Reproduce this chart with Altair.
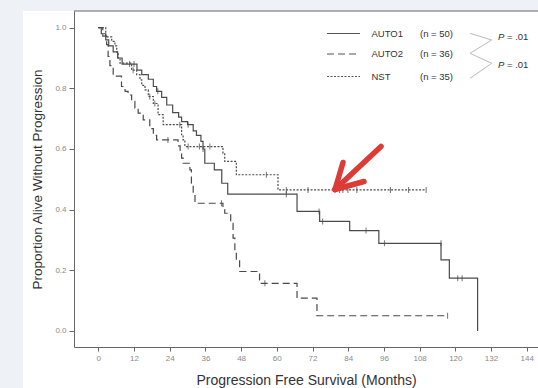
import altair as alt
import pandas as pd

# ---------------- data ----------------
# AUTO1 (n = 50): event times (months) and survival after each step
auto1_t = [0, 1, 2.5, 3.5, 5, 6.5, 8, 13, 14.6, 16.8, 18.5, 19.6, 21.3, 23, 25, 27, 28, 30,
           31.9, 33, 34.5, 35.2, 35.8, 39, 41.5, 43.5, 66.8, 74.4, 84.5, 94.3, 115.2, 118, 127.5]
auto1_s = [1.0, 0.98, 0.96, 0.94, 0.92, 0.90, 0.88, 0.86, 0.845, 0.83, 0.806, 0.79, 0.77, 0.745,
           0.72, 0.705, 0.69, 0.68, 0.66, 0.645, 0.625, 0.60, 0.553, 0.531, 0.487, 0.451, 0.394,
           0.361, 0.331, 0.289, 0.234, 0.174, 0.0]
auto1_censor_t = [10.5, 12, 20, 30.2, 35.2, 63.2, 74.2, 75.4, 90, 96.2, 115.2, 120.8, 122.3]
auto1_censor_s = [0.88, 0.88, 0.79, 0.68, 0.60, 0.451, 0.394, 0.361, 0.331, 0.289, 0.289, 0.174, 0.174]

# AUTO2 (n = 36)
auto2_t = [0, 1.5, 2.8, 3.3, 3.9, 5, 7.8, 9, 10, 11.2, 12.3, 13.4, 15.1, 17.3, 18.5, 19.6, 26.8,
           27.5, 28, 28.5, 30.8, 31.3, 31.9, 32.5, 41.9, 42.5, 44.5, 45.3, 45.9, 46.4, 47.5, 54.2,
           54.8, 66.8, 73.5, 117.4]
auto2_s = [1.0, 0.972, 0.944, 0.905, 0.875, 0.84, 0.806, 0.79, 0.778, 0.757, 0.735, 0.718, 0.696,
           0.667, 0.645, 0.63, 0.61, 0.592, 0.57, 0.553, 0.531, 0.487, 0.45, 0.421, 0.40, 0.388,
           0.355, 0.306, 0.262, 0.234, 0.196, 0.168, 0.157, 0.108, 0.05, 0.05]
auto2_censor_t = [23.4, 41.4, 56, 117.4]
auto2_censor_s = [0.63, 0.421, 0.157, 0.05]

# NST (n = 35)
nst_t = [0, 2.5, 4.5, 5.6, 6.2, 6.7, 7.3, 11.2, 12.9, 14, 14.6, 15.7, 16.8, 18.5, 20.1, 21.8, 28,
         28.5, 29.1, 41.9, 42.5, 46.4, 60.4, 110.2]
nst_s = [1.0, 0.97, 0.955, 0.94, 0.92, 0.90, 0.883, 0.86, 0.845, 0.828, 0.81, 0.795, 0.773, 0.75,
         0.713, 0.68, 0.647, 0.63, 0.608, 0.586, 0.559, 0.515, 0.465, 0.465]
nst_censor_t = [11.7, 17.3, 19, 27.4, 30.2, 34, 37.5, 56.5, 63.2, 70.5, 81.1, 82.2, 83.9, 86.9,
                98.2, 104.3, 110.2]
nst_censor_s = [0.86, 0.773, 0.75, 0.68, 0.608, 0.608, 0.608, 0.515, 0.465, 0.465, 0.465, 0.465,
                0.465, 0.465, 0.465, 0.465, 0.465]

groups = ["AUTO1", "AUTO2", "NST"]
group_n = ["(n = 50)", "(n = 36)", "(n = 35)"]
p_labels = ["= .01", "= .01"]
x_ticks = list(range(0, 145, 12))
y_ticks = [0.0, 0.2, 0.4, 0.6, 0.8, 1.0]

# ---------------- tables ----------------
curves = pd.concat([
    pd.DataFrame({"t": auto1_t, "s": auto1_s, "g": "AUTO1"}),
    pd.DataFrame({"t": auto2_t, "s": auto2_s, "g": "AUTO2"}),
    pd.DataFrame({"t": nst_t, "s": nst_s, "g": "NST"}),
], ignore_index=True)
censors = pd.concat([
    pd.DataFrame({"t": auto1_censor_t, "s": auto1_censor_s, "g": "AUTO1"}),
    pd.DataFrame({"t": auto2_censor_t, "s": auto2_censor_s, "g": "AUTO2"}),
    pd.DataFrame({"t": nst_censor_t, "s": nst_censor_s, "g": "NST"}),
], ignore_index=True)
one = pd.DataFrame({"a": [0]})

FONT = "Liberation Sans"
LINE = "#4a4a4a"
W, H = 464, 336

xscale = alt.Scale(domain=[-8.17, 147.8], nice=False, zero=False)
yscale = alt.Scale(domain=[-0.053, 1.055], nice=False, zero=False)

xaxis = alt.Axis(values=x_ticks, format="d", title="Progression Free Survival (Months)",
                 grid=False, tickSize=4, tickColor="#666", domainColor="#666",
                 labelFontSize=8, labelColor="#8a8a8a", labelPadding=3, labelFlush=False,
                 labelOverlap=False,
                 titleFontSize=14, titleFontWeight="normal", titleColor="#333",
                 titlePadding=11, zindex=1)
yaxis = alt.Axis(values=y_ticks, format=".1f", title="Proportion Alive Without Progression",
                 grid=False, tickSize=5, tickColor="#666", domainColor="#666",
                 labelFontSize=8, labelColor="#8a8a8a", labelPadding=3, labelOverlap=False,
                 titleFontSize=13.5, titleFontWeight="normal", titleColor="#333",
                 titlePadding=10, zindex=1)

dash_scale = alt.Scale(domain=groups, range=[[1, 0], [7, 4], [2, 1.5]])

white = alt.Chart(one).mark_rect(color="white").encode(
    x=alt.value(-51), x2=alt.value(W + 10), y=alt.value(0), y2=alt.value(H + 60))
top_rule = alt.Chart(one).mark_rule(color="#666", strokeWidth=1).encode(
    x=alt.value(0), x2=alt.value(W), y=alt.value(0))

lines = alt.Chart(curves).mark_line(interpolate="step-after", strokeWidth=1.2, color=LINE).encode(
    x=alt.X("t:Q", scale=xscale, axis=xaxis),
    y=alt.Y("s:Q", scale=yscale, axis=yaxis),
    strokeDash=alt.StrokeDash("g:N", scale=dash_scale, legend=None),
    detail="g:N",
)
ticks = alt.Chart(censors).mark_tick(orient="vertical", size=6, thickness=1.1, color=LINE).encode(
    x=alt.X("t:Q", scale=xscale, axis=xaxis), y=alt.Y("s:Q", scale=yscale, axis=yaxis))

layers = [white, top_rule, lines, ticks]

# legend (drawn as annotation)
row_y = [22.5, 43, 65.5]
dashes = [[1, 0], [7, 4], [2, 1.5]]
for i in range(3):
    layers.append(alt.Chart(one).mark_rule(color="#555", strokeWidth=1.1, strokeDash=dashes[i]).encode(
        x=alt.value(253), x2=alt.value(286), y=alt.value(row_y[i])))
    layers.append(alt.Chart(one).mark_text(align="left", baseline="middle", fontSize=9.5,
                                           font=FONT, color="#333", text=groups[i]).encode(
        x=alt.value(297.5), y=alt.value(row_y[i])))
    layers.append(alt.Chart(one).mark_text(align="left", baseline="middle", fontSize=9.5,
                                           font=FONT, color="#333", text=group_n[i]).encode(
        x=alt.value(346), y=alt.value(row_y[i])))

# p-value brackets
bx = [396, 417.7, 396, 417.7, 396]
by = [22.3, 29, 42.3, 52.3, 67.3]
for i in range(4):
    layers.append(alt.Chart(one).mark_rule(color="#bbbbbb", strokeWidth=1).encode(
        x=alt.value(bx[i]), x2=alt.value(bx[i + 1]), y=alt.value(by[i]), y2=alt.value(by[i + 1])))
p_y = [25.5, 53.5]
for i in range(2):
    layers.append(alt.Chart(one).mark_text(align="left", baseline="middle", fontSize=9.5,
                                           font=FONT, fontStyle="italic", color="#333", text="P").encode(
        x=alt.value(424), y=alt.value(p_y[i])))
    layers.append(alt.Chart(one).mark_text(align="left", baseline="middle", fontSize=9.5,
                                           font=FONT, color="#333", text=p_labels[i]).encode(
        x=alt.value(433), y=alt.value(p_y[i])))

# red arrow annotation
tip = (261, 178.5)
ends = [(307, 135.5), (269, 151.5), (290, 170.5)]
for ex, ey in ends:
    layers.append(alt.Chart(one).mark_rule(color="#dc3b36", strokeWidth=5.5, strokeCap="round").encode(
        x=alt.value(tip[0]), x2=alt.value(ex), y=alt.value(tip[1]), y2=alt.value(ey)))

chart = alt.layer(*layers).properties(
    width=W, height=H,
    autosize=alt.AutoSizeParams(type="none"),
    padding={"left": 74, "top": 11, "right": 0, "bottom": 41},
    background="#eef2f6",
).configure_view(stroke=None).configure_axis(labelFont=FONT, titleFont=FONT).configure_text(font=FONT)

chart.save("out.html", embed_options={"renderer": "svg", "actions": False})
